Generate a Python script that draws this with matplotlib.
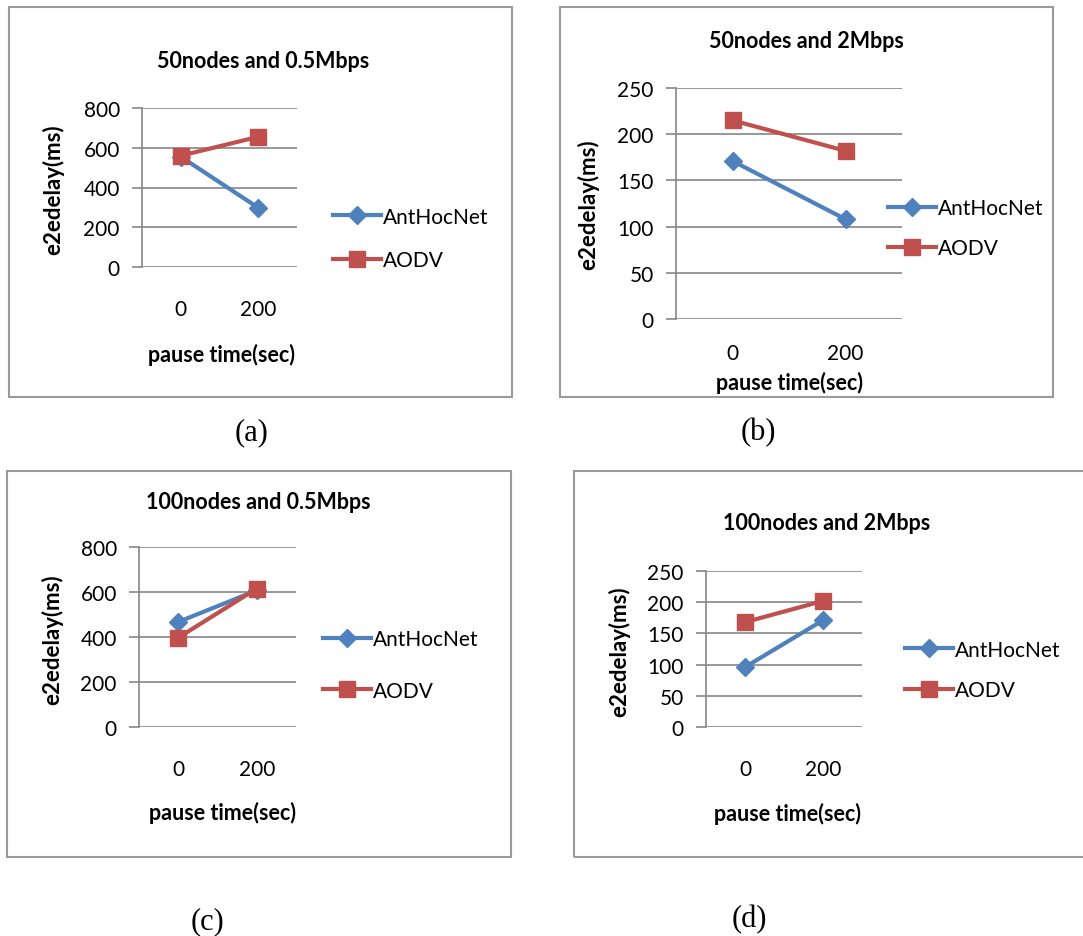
import matplotlib
matplotlib.use("Agg")
import matplotlib.pyplot as plt
from matplotlib.patches import Rectangle

# data
pause_times = ["0", "200"]
titles = ["50nodes and 0.5Mbps", "50nodes and 2Mbps",
          "100nodes and 0.5Mbps", "100nodes and 2Mbps"]
captions = ["(a)", "(b)", "(c)", "(d)"]
ant_a = [555, 298]
aodv_a = [560, 655]
ant_b = [171, 108]
aodv_b = [215, 182]
ant_c = [467, 607]
aodv_c = [397, 615]
ant_d = [96, 171]
aodv_d = [168, 202]
yticks_small = [0, 200, 400, 600, 800]
yticks_big = [0, 50, 100, 150, 200, 250]

W, H = 1083, 937
BLUE = "#4F81BD"
RED = "#C0504D"
GRID = "#868686"
FONT = "Lato"

plt.rcParams["font.family"] = [FONT, "DejaVu Sans"]

fig = plt.figure(figsize=(W / 100, H / 100), dpi=100)
fig.patch.set_facecolor("white")


def fx(x):
    return x / W


def fy(y):
    return 1 - y / H


# pixel layout of each panel
layouts = [
    dict(ax=(142, 297, 109, 268), box=(9, 8, 512, 398), title=(263, 61), xpad=23,
         ylab=(53, 190), xlab=(221, 355), leg=(333, 239.5), legsp=1.15, cap=(252, 433)),
    dict(ax=(676, 902, 89, 320), box=(560, 8, 1053, 398), title=(806, 42), xpad=17,
         ylab=(588, 205), xlab=(789, 383), leg=(888, 229), legsp=0.95, cap=(758, 433)),
    dict(ax=(139, 296, 548, 728), box=(7, 472, 511, 858), title=(258, 503), xpad=23,
         ylab=(52, 640), xlab=(222, 813), leg=(323, 666), legsp=1.5, cap=(207, 922)),
    dict(ax=(706, 862, 572, 728), box=(574, 472, 1100, 858), title=(827, 523), xpad=23,
         ylab=(619, 652), xlab=(788, 814), leg=(905, 671), legsp=1.0, cap=(749, 920)),
]
series = [(ant_a, aodv_a, yticks_small), (ant_b, aodv_b, yticks_big),
          (ant_c, aodv_c, yticks_small), (ant_d, aodv_d, yticks_big)]

for i, (lay, (ant, aodv, yt)) in enumerate(zip(layouts, series)):
    # outer chart frame
    bx0, by0, bx1, by1 = lay["box"]
    fig.patches.append(Rectangle((fx(bx0), fy(by1)), fx(bx1 - bx0), (by1 - by0) / H,
                                 transform=fig.transFigure, fill=False,
                                 edgecolor="#9A9A9A", linewidth=1.5))

    l, r, t, b = lay["ax"]
    ax = fig.add_axes([fx(l), fy(b), fx(r - l), (b - t) / H])
    xs = range(len(pause_times))
    ax.plot(xs, ant, color=BLUE, lw=3, marker="D", ms=9, label="AntHocNet", zorder=3)
    ax.plot(xs, aodv, color=RED, lw=3, marker="s", ms=12, label="AODV", zorder=4)

    ax.set_xlim(-0.5, 1.5)
    ax.set_ylim(yt[0], yt[-1])
    ax.set_xticks(list(xs))
    ax.set_xticklabels(pause_times)
    ax.set_yticks(yt)
    ax.yaxis.grid(True, color=GRID, lw=1.2)
    ax.set_axisbelow(True)
    for s in ["top", "right", "bottom"]:
        ax.spines[s].set_visible(False)
    ax.spines["left"].set_color(GRID)
    ax.spines["left"].set_linewidth(1.2)
    ax.tick_params(axis="x", length=0, pad=lay["xpad"], labelsize=15, labelcolor="#000000")
    ax.tick_params(axis="y", length=7, width=1.2, color=GRID, pad=9,
                   labelsize=15, labelcolor="#000000")

    ax.set_ylabel("e2edelay(ms)", fontsize=16, fontweight="bold")
    ax.yaxis.set_label_coords(fx(lay["ylab"][0]), fy(lay["ylab"][1]), transform=fig.transFigure)
    ax.yaxis.label.set_va("center")
    ax.set_xlabel("pause time(sec)", fontsize=15.5, fontweight="bold")
    ax.xaxis.set_label_coords(fx(lay["xlab"][0]), fy(lay["xlab"][1]), transform=fig.transFigure)
    ax.xaxis.label.set_va("center")

    fig.text(fx(lay["title"][0]), fy(lay["title"][1]), titles[i], ha="center", va="center",
             fontsize=15.5, fontweight="bold")

    ax.legend(loc="center left", bbox_to_anchor=(fx(lay["leg"][0]), fy(lay["leg"][1])),
              bbox_transform=fig.transFigure, frameon=False, fontsize=15,
              handlelength=2.3, handletextpad=0.1, borderpad=0, borderaxespad=0,
              labelspacing=lay["legsp"])

    fig.text(fx(lay["cap"][0]), fy(lay["cap"][1]), captions[i], ha="center", va="center",
             fontsize=22, family="Liberation Serif")

fig.savefig("out.png", dpi=100)
